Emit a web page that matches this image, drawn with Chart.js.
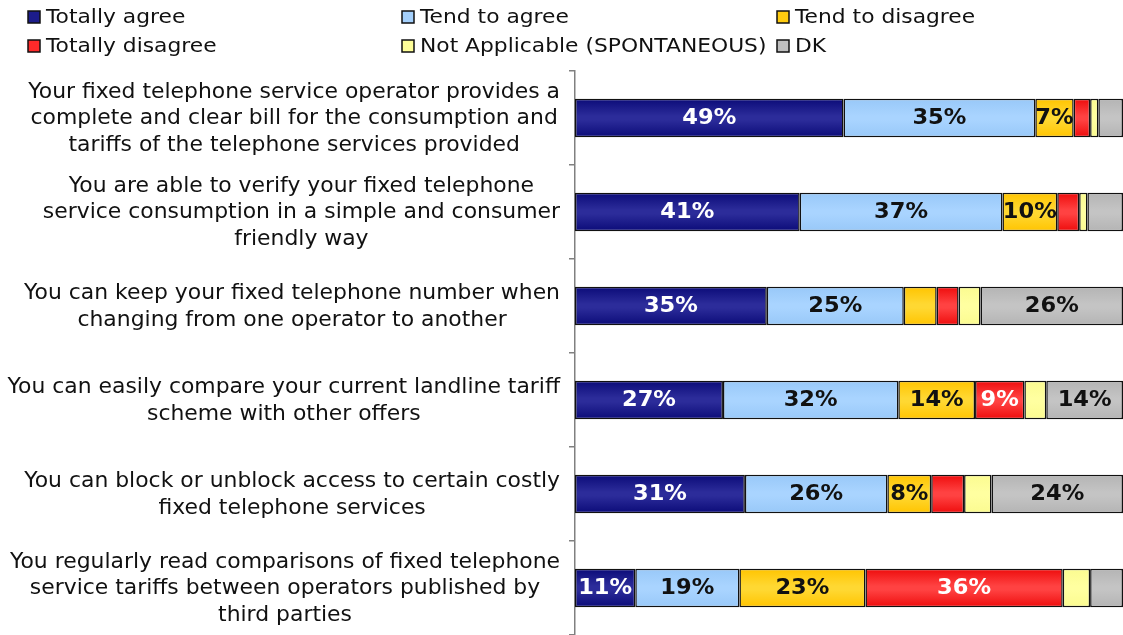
<!DOCTYPE html>
<html>
<head>
<meta charset="utf-8">
<script src="https://cdn.jsdelivr.net/npm/chart.js@4/dist/chart.umd.min.js"></script>
<style>
  html, body { margin: 0; padding: 0; background: #ffffff; }
  #wrap { position: relative; width: 1123px; height: 635px; }
</style>
</head>
<body>
<div id="wrap"><canvas id="c" width="1123" height="635"></canvas></div>
<script>
// Survey statements (one bar per statement)
const statements = [
  ["Your fixed telephone service operator provides a", "complete and clear bill for the consumption and", "tariffs of the telephone services provided"],
  ["You are able to verify your fixed telephone", "service consumption in a simple and consumer", "friendly way"],
  ["You can keep your fixed telephone number when", "changing from one operator to another"],
  ["You can easily compare your current landline tariff", "scheme with other offers"],
  ["You can block or unblock access to certain costly", "fixed telephone services"],
  ["You regularly read comparisons of fixed telephone", "service tariffs between operators published by", "third parties"]
];

// Answer shares, % of respondents
const totallyAgree    = [49, 41, 35, 27, 31, 11];
const tendToAgree     = [35, 37, 25, 32, 26, 19];
const tendToDisagree  = [7, 10, 6, 14, 8, 23];
const totallyDisagree = [3, 4, 4, 9, 6, 36];
const notApplicable   = [1.5, 1.5, 4, 4, 5, 5];
const dontKnow        = [4.5, 6.5, 26, 14, 24, 6];

const seriesNames = ["Totally agree", "Tend to agree", "Tend to disagree",
                     "Totally disagree", "Not Applicable (SPONTANEOUS)", "DK"];

const BAR_PCT = 0.41;
const FONT = "'DejaVu Sans', Verdana, sans-serif";

// [edge colour, centre colour, legend colour, label colour]
const palette = [
  ["#0b0b78", "#2c2c9a", "#1c1c8a", "#ffffff"],
  ["#98c8f8", "#a9d4ff", "#a4d0fc", "#111111"],
  ["#ffc400", "#ffd832", "#ffcc10", "#111111"],
  ["#ee0c0c", "#ff4242", "#ff2a2a", "#ffffff"],
  ["#fbfb90", "#ffffa0", "#ffff99", "#111111"],
  ["#b4b4b4", "#c4c4c4", "#bebebe", "#111111"]
];

function barFill(idx) {
  return function (ctx) {
    const chart = ctx.chart;
    const p = palette[idx];
    if (!chart.chartArea || !chart.scales.y) return p[2];
    const y = chart.scales.y;
    const yc = y.getPixelForValue(ctx.dataIndex);
    const half = (y.height / statements.length) * BAR_PCT / 2;
    if (!isFinite(yc)) return p[2];
    const g = chart.ctx.createLinearGradient(0, yc - half, 0, yc + half);
    g.addColorStop(0, p[0]);
    g.addColorStop(0.45, p[1]);
    g.addColorStop(0.55, p[1]);
    g.addColorStop(1, p[0]);
    return g;
  };
}

const seriesData = [totallyAgree, tendToAgree, tendToDisagree, totallyDisagree, notApplicable, dontKnow];

const datasets = seriesData.map((d, i) => ({
  label: seriesNames[i],
  data: d,
  backgroundColor: barFill(i),
  borderColor: "#111111",
  borderWidth: 1.5,
  borderSkipped: false,
  barPercentage: BAR_PCT,
  categoryPercentage: 1.0
}));

// Text drawn with a slight horizontal widening (wide humanist face look)
function wideText(ctx, text, x, y, sx) {
  ctx.save();
  ctx.translate(x, y);
  ctx.scale(sx, 1);
  ctx.fillText(text, 0, 0);
  ctx.restore();
}

// Legend in a three-column grid above the plot
const legendGrid = {
  id: "legendGrid",
  afterDraw(chart) {
    const ctx = chart.ctx;
    const cols = [28, 402, 777];
    const rows = [17, 46];
    ctx.save();
    ctx.font = "20px " + FONT;
    ctx.textBaseline = "middle";
    ctx.textAlign = "left";
    seriesNames.forEach((name, i) => {
      const x = cols[i % 3];
      const y = rows[Math.floor(i / 3)];
      ctx.fillStyle = palette[i][2];
      ctx.fillRect(x, y - 6, 12, 12);
      ctx.lineWidth = 1.5;
      ctx.strokeStyle = "#111111";
      ctx.strokeRect(x, y - 6, 12, 12);
      ctx.fillStyle = "#111111";
      wideText(ctx, name, x + 18, y + 1, 1.09);
    });
    ctx.restore();
  }
};

// Statement text: each block centred on its widest line, block flush to the axis
const statementLabels = {
  id: "statementLabels",
  afterDraw(chart) {
    const ctx = chart.ctx;
    const y = chart.scales.y;
    const right = chart.chartArea.left - 15;
    const lineH = 26.5;
    const sx = 1.068;
    ctx.save();
    ctx.font = "20.5px " + FONT;
    ctx.fillStyle = "#111111";
    ctx.textAlign = "center";
    ctx.textBaseline = "middle";
    statements.forEach((lines, i) => {
      const yc = y.getPixelForValue(i);
      const w = Math.max(...lines.map(l => ctx.measureText(l).width)) * sx;
      const cx = right - w / 2;
      const top = yc - (lines.length - 1) * lineH / 2;
      lines.forEach((l, k) => wideText(ctx, l, cx, top + k * lineH + 1, sx));
    });
    ctx.restore();
  }
};

// Percentage labels inside segments wide enough to hold them
const valueLabels = {
  id: "valueLabels",
  afterDatasetsDraw(chart) {
    const ctx = chart.ctx;
    ctx.save();
    ctx.font = "bold 20.5px " + FONT;
    ctx.textAlign = "center";
    ctx.textBaseline = "middle";
    chart.data.datasets.forEach((ds, di) => {
      const meta = chart.getDatasetMeta(di);
      meta.data.forEach((bar, j) => {
        const v = ds.data[j];
        if (v < 7) return;
        const cx = (bar.x + bar.base) / 2;
        ctx.fillStyle = palette[di][3];
        wideText(ctx, Math.round(v) + "%", cx, bar.y + 1, 1.1);
      });
    });
    ctx.restore();
  }
};

new Chart(document.getElementById("c"), {
  type: "bar",
  data: { labels: statements.map(s => s.join(" ")), datasets },
  options: {
    indexAxis: "y",
    responsive: false,
    animation: false,
    layout: { padding: { top: 71, right: 0, bottom: 0, left: 0 } },
    plugins: { legend: { display: false }, tooltip: { enabled: false } },
    scales: {
      x: { display: false, stacked: true, min: 0, max: 100 },
      y: {
        stacked: true,
        offset: true,
        ticks: { display: false },
        grid: { display: true, drawOnChartArea: false, drawTicks: true, tickLength: 6, color: "#808080", lineWidth: 1.5, offset: true },
        border: { display: true, color: "#808080", width: 1.5 },
        afterFit(scale) { scale.width = 575; }
      }
    }
  },
  plugins: [legendGrid, statementLabels, valueLabels]
});
</script>
</body>
</html>
